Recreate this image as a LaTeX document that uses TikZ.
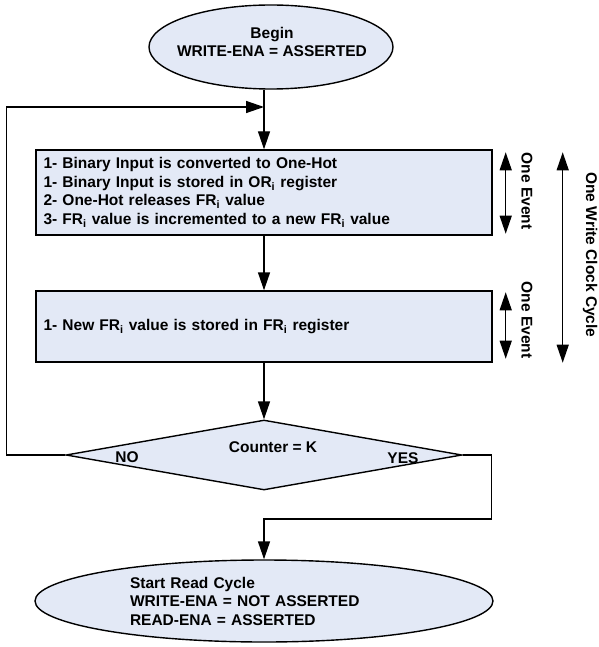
\documentclass[tikz,border=0pt]{standalone}
\usepackage{fontspec}
\setmainfont{Liberation Sans}
\usetikzlibrary{shapes.geometric,arrows.meta}
\definecolor{boxfill}{RGB}{227,233,246}

\begin{document}
\begin{tikzpicture}[x=1pt, y=-1pt,
    font=\fontsize{15.5}{18.5}\selectfont\bfseries,
    line width=1.4pt,
    arr/.style={-{Triangle[length=18pt,width=12pt]}},
    dblarr/.style={{Triangle[length=18pt,width=12pt]}-{Triangle[length=18pt,width=12pt]}},
    terminal/.style={ellipse, draw, fill=boxfill, inner sep=0pt},
    process/.style={rectangle, draw, fill=boxfill, minimum width=456pt,
      text width=441pt, inner xsep=7.5pt, align=left},
    decision/.style={diamond, draw, fill=boxfill, minimum width=396pt,
      minimum height=70pt, inner sep=0pt}]
    \useasboundingbox (0,0) rectangle (598,647);
    \pgfmathsetmacro{\mx}{264}
    \pgfmathsetmacro{\ev}{13}

    \node[terminal, minimum width=244pt, minimum height=84pt] (begin) at (271,47) {};
    \node[align=center] (begintxt) at (272,42) {Begin\\WRITE-ENA = ASSERTED};

    \node[process, minimum height=85pt] (box1) at (\mx,192.5)
      {1- Binary Input is converted to One-Hot\\
       1- Binary Input is stored in OR\textsubscript{i} register\\
       2- One-Hot releases FR\textsubscript{i} value\\
       3- FR\textsubscript{i} value is incremented to a new FR\textsubscript{i} value};
    \node[process, minimum height=71pt] (box2) at (\mx,326.5)
      {1- New FR\textsubscript{i} value is stored in FR\textsubscript{i} register};

    \node[decision] (test) at (\mx,455) {};
    \node (testtxt) at (273,447) {Counter = K};
    \node (no) at (127,457) {NO};
    \node (yes) at (403,458) {YES};

    \node[terminal, minimum width=458pt, minimum height=82pt, text width=268pt,
      align=left] (done) at (\mx,601)
      {Start Read Cycle\\WRITE-ENA = NOT ASSERTED\\READ-ENA = ASSERTED};

    \coordinate (join) at (\mx,107);
    \draw[arr] (begin.south -| box1.north) -- (box1.north);
    \draw[arr] (box1) -- (box2);
    \draw[arr] (box2) -- (test);
    \draw[arr] (test.west) -- ++(-59,0) |- (join);
    \draw[arr] (test.east) -- ++(29,0) -- ++(0,64) -| (done.north);

    \draw[dblarr] ([xshift=\ev pt,yshift=-3pt]box1.north east)
      -- ([xshift=\ev pt,yshift=2pt]box1.south east);
    \draw[dblarr] ([xshift=\ev pt,yshift=-2pt]box2.north east)
      -- ([xshift=\ev pt,yshift=4pt]box2.south east);
    \draw[dblarr] ([xshift=70pt,yshift=-3pt]box1.north east)
      -- ([xshift=70pt]box2.south east);
    \node[rotate=-90] (event1) at (527,191) {One Event};
    \node[rotate=-90] (event2) at (527,320) {One Event};
    \node[rotate=-90] (cycle) at (590,255) {One Write Clock Cycle};
\end{tikzpicture}
\end{document}
